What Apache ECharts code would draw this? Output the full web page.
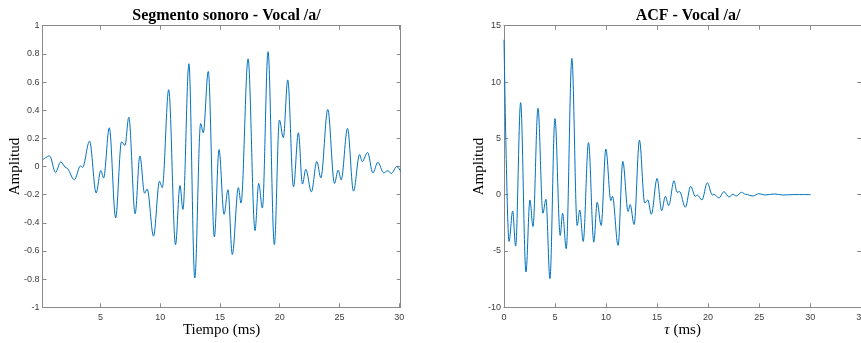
<!DOCTYPE html>
<html>
<head>
<meta charset="utf-8">
<script src="https://cdn.jsdelivr.net/npm/echarts@6/dist/echarts.min.js"></script>
<style>
html,body{margin:0;padding:0;background:#fff;}
#c{width:861px;height:343px;}
</style>
</head>
<body>
<div id="c"></div>
<script>
// ---- Data: voiced segment (extrema) ----
const sigTime = [0.17,0.75,1.24,1.67,2.15,2.82,3.32,3.5,4.09,4.64,5.03,5.26,5.74,6.27,6.76,7.05,7.37,7.9,8.3,8.69,8.91,9.44,9.94,10.17,10.71,11.28,11.65,11.9,12.4,12.89,13.38,13.6,14.02,14.53,14.92,15.34,15.67,16.03,16.54,16.76,17.35,17.93,18.24,18.55,19.02,19.55,19.97,20.3,20.67,21.15,21.56,21.9,22.18,22.65,23.1,23.44,24.02,24.58,24.89,25.14,25.67,26.17,26.68,26.9,27.35,27.79,28.21,28.69,29.05,29.33,29.8,30.12];
const sigAmp  = [0.048,0.075,-0.042,0.032,-0.01,-0.094,0.004,-0.006,0.18,-0.188,-0.028,-0.082,0.275,-0.365,0.175,0.15,0.35,-0.335,0.075,-0.19,-0.16,-0.495,-0.105,-0.15,0.545,-0.555,-0.135,-0.305,0.73,-0.792,0.305,0.24,0.675,-0.5,0.12,-0.34,-0.165,-0.625,-0.15,-0.26,0.765,-0.455,-0.12,-0.295,0.815,-0.555,0.33,0.205,0.615,-0.145,0.24,-0.125,-0.02,-0.18,0.035,-0.08,0.405,-0.12,-0.025,-0.095,0.27,-0.175,0.085,0.035,0.1,-0.045,0.03,-0.045,-0.03,-0.05,0.0,-0.035];

// ---- Data: autocorrelation ----
const acfLag = [0,0.49,0.85,1.14,1.63,2.15,2.54,2.84,3.33,3.81,4.11,4.5,4.99,5.51,5.74,6.1,6.65,7.17,7.43,7.76,8.28,8.8,9.13,9.52,9.98,10.47,10.63,11.18,11.64,12.16,12.36,12.75,13.27,13.79,14.09,14.44,15.0,15.45,15.81,16.14,16.66,16.95,17.2,17.77,18.29,18.75,18.94,19.4,19.92,20.41,20.57,21.06,21.55,22.04,22.43,22.76,23.28,23.67,24.39,24.97,25.53,26.5,27.3,28.5,30.03];
const acfVal = [13.75,-4.16,-1.45,-4.57,8.17,-6.87,-0.47,-2.83,7.67,-1.65,-0.41,-7.46,6.75,-3.63,-1.65,-4.8,12.09,-2.74,-1.36,-4.16,4.63,-4.22,-0.68,-2.74,4.04,-0.53,-0.15,-4.51,2.95,-1.5,-0.88,-2.65,4.83,-0.74,-0.47,-1.74,1.44,-1.42,-0.15,-0.97,1.24,0.21,0.27,-1.12,0.74,-0.15,-0.03,-0.47,1.06,-0.03,0.03,-0.29,0.27,-0.21,0.03,-0.12,0.21,0.03,-0.12,0.09,-0.03,0.06,-0.03,0.01,0.0];

// ---- Tick values ----
const leftXTicks = [5,10,15,20,25,30];
const titles = ['Segmento sonoro - Vocal /a/', 'ACF - Vocal /a/'];

const axisCol = '#8a8a8a';
const labCol = '#3c3c3c';
const lineCol = '#0072BD';
const serif = '"Liberation Serif","Times New Roman",serif';
const sans = '"Liberation Sans",Arial,sans-serif';

const chart = echarts.init(document.getElementById('c'), null, {renderer:'canvas'});

function xA(grid, pos, extra){
  return Object.assign({
    gridIndex: grid, type:'value', position: pos, nameMoveOverlap:false,
    axisLine:{show:true, onZero:false, lineStyle:{color:axisCol, width:1}},
    axisTick:{show:true, inside:true, length:4, lineStyle:{color:axisCol}},
    axisLabel:{show: pos==='bottom', color:labCol, fontSize:9, fontFamily:sans, margin:6},
    splitLine:{show:false}
  }, extra);
}
function yA(grid, pos, extra){
  return Object.assign({
    gridIndex: grid, type:'value', position: pos, nameMoveOverlap:false,
    axisLine:{show:true, onZero:false, lineStyle:{color:axisCol, width:1}},
    axisTick:{show:true, inside:true, length:4, lineStyle:{color:axisCol}},
    axisLabel:{show: pos==='left', color:labCol, fontSize:9, fontFamily:sans, margin:3},
    splitLine:{show:false}
  }, extra);
}

const nameStyle = {fontFamily:serif, fontSize:15, color:'#000'};

const leftXtickObj = {show:true, inside:true, length:4, lineStyle:{color:axisCol}, customValues:leftXTicks};

const option = {
  animation:false,
  backgroundColor:'#fff',
  title:[
    {text:titles[0], left:221.5, top:3, textAlign:'center',
     textStyle:{fontFamily:serif, fontWeight:'bold', fontSize:16, color:'#000'}},
    {text:titles[1], left:683, top:3, textAlign:'center',
     textStyle:{fontFamily:serif, fontWeight:'bold', fontSize:16, color:'#000'}}
  ],
  grid:[
    {left:42.5, top:25.7, width:358.2, height:281.6, outerBoundsMode:'none', containLabel:false},
    {left:504, top:25.7, width:357.2, height:281.6, outerBoundsMode:'none', containLabel:false}
  ],
  xAxis:[
    xA(0,'bottom',{min:0.15, max:30.12,
      axisTick:leftXtickObj,
      axisLabel:{show:true, color:labCol, fontSize:9, fontFamily:sans, margin:6, customValues:leftXTicks},
      name:'Tiempo (ms)', nameLocation:'middle', nameGap:15, nameTextStyle:nameStyle}),
    xA(0,'top',{min:0.15, max:30.12, axisTick:leftXtickObj}),
    xA(1,'bottom',{min:0, max:35, interval:5,
      name:'{i|τ} (ms)', nameLocation:'middle', nameGap:15,
      nameTextStyle:Object.assign({}, nameStyle, {rich:{i:{fontFamily:serif, fontStyle:'italic', fontSize:15, color:'#000'}}})}),
    xA(1,'top',{min:0, max:35, interval:5})
  ],
  yAxis:[
    yA(0,'left',{min:-1, max:1, interval:0.2,
      name:'Amplitud', nameLocation:'middle', nameRotate:90, nameGap:20, nameTextStyle:nameStyle}),
    yA(0,'right',{min:-1, max:1, interval:0.2}),
    yA(1,'left',{min:-10, max:15, interval:5,
      name:'Amplitud', nameLocation:'middle', nameRotate:90, nameGap:17.5, nameTextStyle:nameStyle}),
    yA(1,'right',{min:-10, max:15, interval:5})
  ],
  series:[
    {type:'line', xAxisIndex:0, yAxisIndex:0, showSymbol:false, smooth:0.35, smoothMonotone:'x',
     lineStyle:{color:lineCol, width:1}, data: sigTime.map((t,i)=>[t, sigAmp[i]])},
    {type:'line', xAxisIndex:2, yAxisIndex:2, showSymbol:false, smooth:0.35, smoothMonotone:'x',
     lineStyle:{color:lineCol, width:1}, data: acfLag.map((t,i)=>[t, acfVal[i]])}
  ]
};
chart.setOption(option);
</script>
</body>
</html>
